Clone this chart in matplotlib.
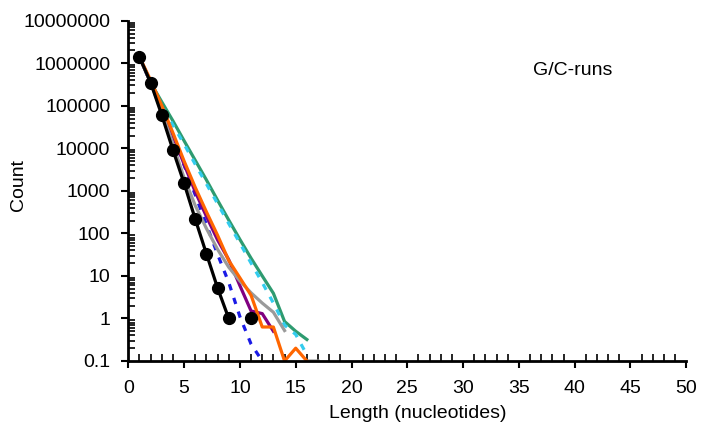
import numpy as np
import matplotlib

matplotlib.use("Agg")
import matplotlib.pyplot as plt
from matplotlib.ticker import FixedLocator, NullFormatter

plt.rcParams["font.family"] = ["Liberation Sans", "DejaVu Sans"]

# run length (nucleotides) and counts per series
length_black = [1, 2, 3, 4, 5, 6, 7, 8, 9, 10, 11]
count_black = [1.4e6, 3.5e5, 6.0e4, 9100, 1500, 215, 33, 5.2, 1, np.nan, 1]

length_green = list(range(1, 17))
count_green = [1.4e6, 3.5e5, 1.23e5, 4.4e4, 1.5e4, 5200, 1800, 600, 205, 72,
               26, 10, 3.9, 0.85, 0.5, 0.32]

length_cyan = list(range(1, 17))
count_cyan = [1.4e6, 3.5e5, 1.0e5, 3.5e4, 1.25e4, 4200, 1450, 500, 170, 59,
              20, 7, 2.3, 0.7, 0.42, 0.14]

length_blue = list(range(1, 13))
count_blue = [1.4e6, 3.5e5, 8.9e4, 2.0e4, 4000, 800, 160, 32, 7, 1.1, 0.25, 0.1]

length_purple = list(range(1, 14))
count_purple = [1.4e6, 3.5e5, 8.9e4, 2.0e4, 4200, 950, 250, 70, 24, 5.9,
                1.5, 1.3, 0.5]

length_orange = list(range(1, 17))
count_orange = [1.4e6, 4.0e5, 1.0e5, 2.3e4, 5000, 1200, 320, 90, 23, 9,
                3.5, 0.63, 0.63, 0.1, 0.2, 0.1]

length_gray = list(range(1, 18))
count_gray = [1.4e6, 3.5e5, 7.0e4, 1.26e4, 2000, 450, 130, 42, 16, 7.6,
              4.0, 2.3, 1.4, 0.52, np.nan, 0.1, 0.1]

y_ticks = [0.1, 1, 10, 100, 1000, 10000, 100000, 1000000, 10000000]
y_labels = ["0.1", "1", "10", "100", "1000", "10000", "100000", "1000000", "10000000"]
x_ticks = [0, 5, 10, 15, 20, 25, 30, 35, 40, 45, 50]

fig = plt.figure(figsize=(7.02, 4.33), dpi=100)
ax = fig.add_axes([0.1828, 0.1663, 0.7948, 0.7859])

lw = 2.3
ax.plot(length_green, count_green, color="#2e9b70", lw=lw)
ax.plot(length_cyan, count_cyan, color="#33ccee", lw=lw, ls=(0, (2, 2.5)))
ax.plot(length_blue, count_blue, color="#1a1ae6", lw=lw, ls=(0, (2, 2.5)))
ax.plot(length_purple, count_purple, color="#800080", lw=lw)
ax.plot(length_gray, count_gray, color="#9a9a9a", lw=lw)
ax.plot(length_orange, count_orange, color="#ff6600", lw=lw)
ax.plot(length_black, count_black, color="black", lw=lw, marker="o",
        markersize=8.5)

ax.set_yscale("log")
ax.set_xlim(0, 50)
ax.set_ylim(0.1, 1e7)
ax.yaxis.set_major_locator(FixedLocator(y_ticks))
ax.set_yticklabels(y_labels)
minor_y = [m * 10.0 ** e for e in range(-1, 7) for m in range(2, 10)]
ax.yaxis.set_minor_locator(FixedLocator(minor_y))
ax.yaxis.set_minor_formatter(NullFormatter())
ax.set_xticks(x_ticks)
ax.set_xticks(range(0, 51), minor=True)

for side in ["top", "right"]:
    ax.spines[side].set_visible(False)
for side in ["left", "bottom"]:
    ax.spines[side].set_linewidth(2)

ax.tick_params(axis="both", which="major", direction="out", length=5, width=1.5,
               labelsize=14)
ax.tick_params(axis="y", which="major", pad=8)
ax.tick_params(axis="x", which="major", pad=9)
ax.tick_params(axis="both", which="minor", direction="in", length=5, width=1.2)

ax.set_xlabel("Length (nucleotides)", fontsize=14)
ax.xaxis.set_label_coords(0.519, -0.13, transform=ax.transAxes)
ax.xaxis.label.set_va("top")
fig.text(19 / 702, 1 - 185 / 433, "Count", rotation=90, fontsize=14,
         ha="center", va="center")
ax.text(0.725, 0.855, "G/C-runs", transform=ax.transAxes, fontsize=14,
        va="center", ha="left")

fig.savefig("out.png", dpi=100)
